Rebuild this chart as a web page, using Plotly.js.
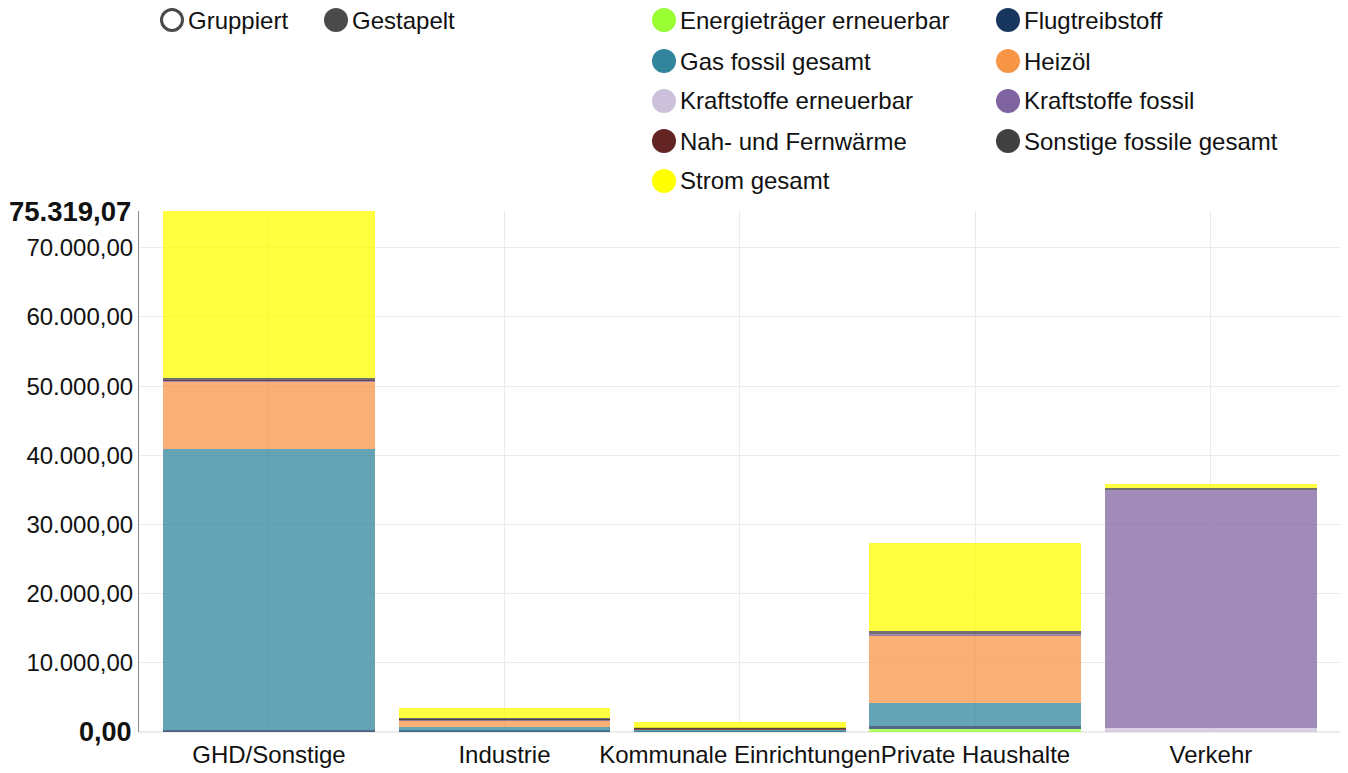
<!DOCTYPE html>
<html>
<head>
<meta charset="utf-8">
<script src="https://cdn.plot.ly/plotly-3.0.1.min.js"></script>
<style>html,body{margin:0;padding:0;background:#fff;}#chart{width:1348px;height:773px;}</style>
</head>
<body>
<div id="chart"></div>
<script>
// ---- data ----
const categories = ["GHD/Sonstige", "Industrie", "Kommunale Einrichtungen", "Private Haushalte", "Verkehr"];
const seriesNames = ["Energieträger erneuerbar", "Flugtreibstoff", "Gas fossil gesamt", "Heizöl",
  "Kraftstoffe erneuerbar", "Kraftstoffe fossil", "Nah- und Fernwärme", "Sonstige fossile gesamt", "Strom gesamt"];
const energieErneuerbar   = [0,      0,    0,    400,   0];
const flugtreibstoff      = [290,    190,  90,   480,   0];
const gasFossil           = [40640,  530,  200,  3330,  0];
const heizoel             = [9680,   970,  100,  9790,  0];
const kraftstoffeErneuerbar = [0,    0,    0,    0,     620];
const kraftstoffeFossil   = [150,    60,   0,    150,   34417];
const nahFernwaerme       = [80,     80,   50,   0,     0];
const sonstigeFossil      = [300,    250,  200,  430,   290];
const stromGesamt         = [24179.07, 1400, 800, 12725, 535];
const seriesValues = [energieErneuerbar, flugtreibstoff, gasFossil, heizoel, kraftstoffeErneuerbar,
  kraftstoffeFossil, nahFernwaerme, sonstigeFossil, stromGesamt];
const seriesColors = ["#99ff33", "#17375e", "#31859c", "#f79646", "#ccc0da", "#8064a2", "#632523", "#404040", "#ffff00"];
const yTickVals = [10000, 20000, 30000, 40000, 50000, 60000, 70000];
const yTickText = ["10.000,00", "20.000,00", "30.000,00", "40.000,00", "50.000,00", "60.000,00", "70.000,00"];
const modeLabels = ["Gruppiert", "Gestapelt"];

// ---- geometry ----
const W = 1348, H = 773, ML = 139, MR = 8, MT = 211, MB = 41;
const PW = W - ML - MR, PH = H - MT - MB;
const px = x => (x - ML) / PW;
const py = y => (H - MB - y) / PH;

const totals = categories.map((_, i) => seriesValues.reduce((s, arr) => s + arr[i], 0));
const yMax = Math.max(...totals);
const fmt = v => v.toLocaleString('de-DE', {minimumFractionDigits: 2, maximumFractionDigits: 2});

const traces = seriesNames.map((n, k) => ({
  type: 'bar', name: n, x: categories, y: seriesValues[k],
  marker: {color: seriesColors[k], opacity: 0.75, line: {width: 0}},
  hoverinfo: 'x+y+name'
}));

const font = 'Liberation Sans, Arial, sans-serif';
const shapes = [], annotations = [];
// series legend
const colX = [664, 1008], rowY = [20, 61, 101, 141, 181];
seriesNames.forEach((n, k) => {
  const cx = colX[k % 2], cy = rowY[Math.floor(k / 2)];
  shapes.push({type: 'circle', xref: 'paper', yref: 'paper', xsizemode: 'pixel', ysizemode: 'pixel',
    xanchor: px(cx), yanchor: py(cy), x0: -12, x1: 12, y0: -12, y1: 12,
    fillcolor: seriesColors[k], line: {width: 0}});
  annotations.push({xref: 'paper', yref: 'paper', x: px(cx + 14), y: py(cy), xanchor: 'left', yanchor: 'middle',
    text: n, showarrow: false, font: {family: font, size: 24, color: '#111'}});
});
// mode switch
const modeX = [172, 336];
modeLabels.forEach((m, k) => {
  const filled = k === 1;
  shapes.push({type: 'circle', xref: 'paper', yref: 'paper', xsizemode: 'pixel', ysizemode: 'pixel',
    xanchor: px(modeX[k]), yanchor: py(20), x0: filled ? -12 : -10.5, x1: filled ? 12 : 10.5, y0: filled ? -12 : -10.5, y1: filled ? 12 : 10.5,
    fillcolor: filled ? '#4a4a4a' : 'rgba(0,0,0,0)', line: {width: filled ? 0 : 3, color: '#4a4a4a'}});
  annotations.push({xref: 'paper', yref: 'paper', x: px(modeX[k] + 14), y: py(20), xanchor: 'left', yanchor: 'middle',
    text: m, showarrow: false, font: {family: font, size: 24, color: '#111'}});
});
// bold min / max labels
annotations.push({xref: 'paper', yref: 'y', x: 0, y: yMax, xanchor: 'right', yanchor: 'middle', xshift: -6,
  text: '<b>' + fmt(yMax) + '</b>', showarrow: false, font: {family: font, size: 27.5, color: '#111'}});
annotations.push({xref: 'paper', yref: 'y', x: 0, y: 0, xanchor: 'right', yanchor: 'middle', xshift: -5,
  text: '<b>' + fmt(0) + '</b>', showarrow: false, font: {family: font, size: 27, color: '#111'}});

const layout = {
  width: W, height: H,
  margin: {l: ML, r: MR, t: MT, b: MB, pad: 0},
  paper_bgcolor: '#fff', plot_bgcolor: '#fff',
  barmode: 'stack', bargap: 0.1,
  showlegend: false,
  font: {family: font, size: 24, color: '#111'},
  xaxis: {type: 'category', range: [-0.552, 4.548], showgrid: true, gridcolor: '#ebebeb', zeroline: false, showline: false,
    ticks: '', tickangle: 0, ticklabelstandoff: 6, tickfont: {family: font, size: 24, color: '#111'}, fixedrange: true},
  yaxis: {range: [0, yMax], tickvals: yTickVals, ticktext: yTickText, showgrid: true, gridcolor: '#ebebeb',
    zeroline: true, zerolinecolor: '#ebebeb', zerolinewidth: 2, showline: true, linecolor: '#888', linewidth: 1,
    ticks: '', tickfont: {family: font, size: 24, color: '#111'}, fixedrange: true},
  shapes: shapes, annotations: annotations
};
Plotly.newPlot('chart', traces, layout, {displayModeBar: false, responsive: false});
</script>
</body>
</html>
